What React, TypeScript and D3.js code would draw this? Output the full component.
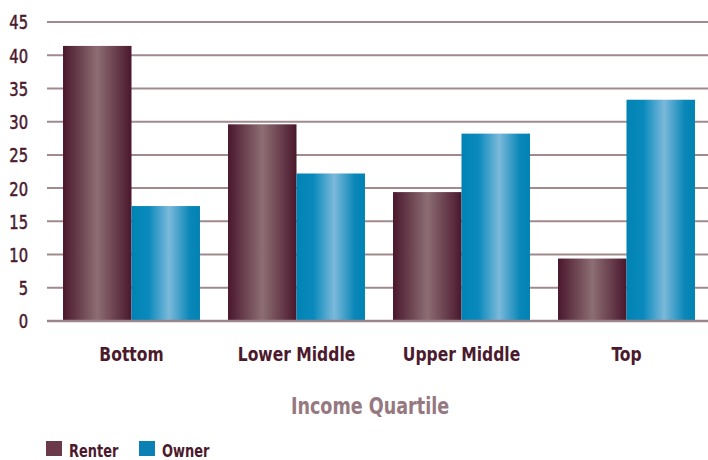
import React from "react";
import * as d3 from "d3";

const categories = ["Bottom", "Lower Middle", "Upper Middle", "Top"];
const renter = [41.4, 29.6, 19.4, 9.4];
const owner = [17.3, 22.2, 28.2, 33.3];
const seriesNames = ["Renter", "Owner"];
const yTicks = [0, 5, 10, 15, 20, 25, 30, 35, 40, 45];

const W = 708;
const H = 460;
const FONT = "'DejaVu Sans Condensed', 'Liberation Sans Narrow', sans-serif";
const DARK = "#4b1a2d";

function CText(props: {
  x: number;
  y: number;
  sx: number;
  anchor?: string;
  size: number;
  bold?: boolean;
  fill: string;
  dy?: string;
  stroke?: number;
  children: React.ReactNode;
}) {
  return (
    <text
      transform={`translate(${props.x},${props.y}) scale(${props.sx},1)`}
      textAnchor={props.anchor || "start"}
      dy={props.dy}
      fontFamily={FONT}
      fontSize={props.size}
      fontWeight={props.bold ? "bold" : "normal"}
      fill={props.fill}
      stroke={props.stroke ? props.fill : undefined}
      strokeWidth={props.stroke}
    >
      {props.children}
    </text>
  );
}

export default function App() {
  const x = d3.scaleBand<string>().domain(categories).range([49, 709]).paddingInner(0.17).paddingOuter(0.085);
  const inner = d3.scaleBand<string>().domain(seriesNames).range([0, x.bandwidth()]).padding(0);
  const y = d3.scaleLinear().domain([0, 45]).range([321, 22]);
  const values = [renter, owner];
  const fills = ["url(#gRenter)", "url(#gOwner)"];
  const legendColors = ["#6b3a4a", "#0a80b4"];

  return (
    <svg width={W} height={H} style={{ position: "absolute", left: 0, top: 0, background: "#fff" }}>
      <defs>
        <linearGradient id="gRenter" x1="0" x2="1" y1="0" y2="0">
          <stop offset="0%" stopColor="#4a172c" />
          <stop offset="50%" stopColor="#8d6e74" />
          <stop offset="100%" stopColor="#4a172c" />
        </linearGradient>
        <linearGradient id="gOwner" x1="0" x2="1" y1="0" y2="0">
          <stop offset="0%" stopColor="#0083b4" />
          <stop offset="25%" stopColor="#0a8abc" />
          <stop offset="55%" stopColor="#7cb9da" />
          <stop offset="85%" stopColor="#0a87b8" />
          <stop offset="100%" stopColor="#0083b4" />
        </linearGradient>
      </defs>
      {yTicks.map((t) => (
        <g key={t}>
          {t !== 0 && (
            <line x1={47} x2={708} y1={y(t)} y2={y(t)} stroke="#a08a8e" strokeWidth={2} />
          )}
          <CText x={28} y={y(t)} dy="0.37em" sx={0.82} anchor="end" size={20} fill={DARK} stroke={0.5}>
            {t}
          </CText>
        </g>
      ))}
      {categories.map((c, i) => (
        <g key={c} transform={`translate(${x(c)},0)`}>
          {seriesNames.map((s, j) => (
            <rect
              key={s}
              x={inner(s)}
              y={y(values[j][i])}
              width={inner.bandwidth()}
              height={y(0) - y(values[j][i])}
              fill={fills[j]}
            />
          ))}
          <CText x={x.bandwidth() / 2} y={361} sx={0.91} anchor="middle" size={19} bold fill={DARK}>
            {c}
          </CText>
        </g>
      ))}
      <line x1={47} x2={708} y1={y(0)} y2={y(0)} stroke="#9a868a" strokeWidth={2.5} />
      <CText x={370} y={414} sx={0.85} anchor="middle" size={23} bold fill="#957880">
        Income Quartile
      </CText>
      {seriesNames.map((s, j) => (
        <g key={s} transform={`translate(${46 + j * 93},441)`}>
          <rect x={0} y={0} width={16} height={15} fill={legendColors[j]} />
          <CText x={23} y={15.5} sx={0.8} size={18} bold fill={DARK}>
            {s}
          </CText>
        </g>
      ))}
    </svg>
  );
}
